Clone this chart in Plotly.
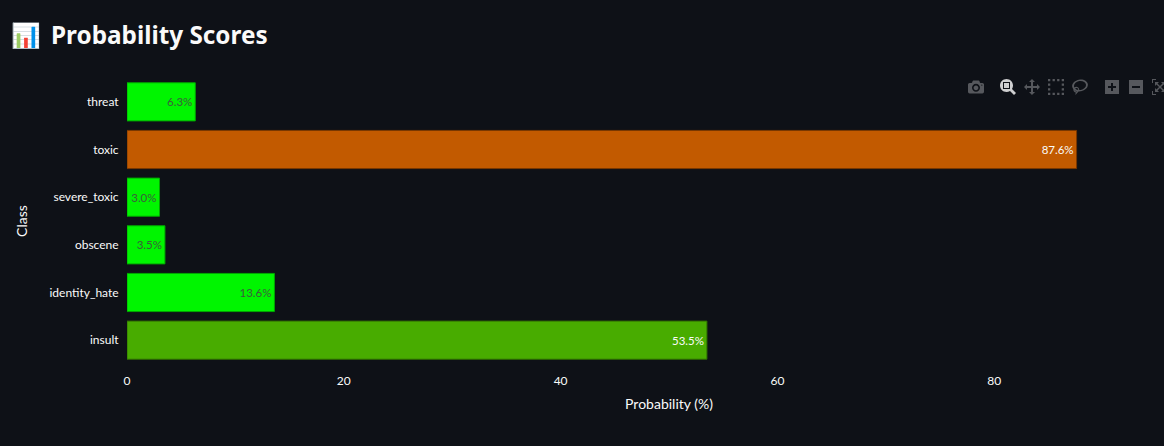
import plotly.graph_objects as go

# top to bottom, as in the picture
classes = ["threat", "toxic", "severe_toxic", "obscene", "identity_hate", "insult"]
probabilities = [6.3, 87.6, 3.0, 3.5, 13.6, 53.5]
bar_colors = ["#00f500", "#c25a00", "#00f500", "#00f500", "#00f500", "#48ac00"]
edge_colors = ["#00a800", "#7a3800", "#00a800", "#00a800", "#00a800", "#2f7000"]
label_colors = ["#3b5f3b", "#fafafa", "#3b5f3b", "#3b5f3b", "#3b5f3b", "#fafafa"]
x_ticks = [0, 20, 40, 60, 80]

FONT = "Lato"
BG = "#0e1117"
WIDTH = 1240
HEIGHT = 446
PLOT_L, PLOT_R, PLOT_T, PLOT_B = 127, 1211, 78, 364


def page_x(px):
    return (px - PLOT_L) / (PLOT_R - PLOT_L)


def page_y(py):
    return (PLOT_B - py) / (PLOT_B - PLOT_T)


fig = go.Figure(go.Bar(
    x=probabilities,
    y=classes,
    orientation="h",
    text=[f"{p:.1f}%" for p in probabilities],
    textposition="inside",
    insidetextanchor="end",
    textangle=0,
    textfont=dict(color=label_colors, size=11.5),
    marker=dict(color=bar_colors, line=dict(color=edge_colors, width=1)),
    showlegend=False,
))

fig.update_layout(
    width=WIDTH,
    height=HEIGHT,
    paper_bgcolor=BG,
    plot_bgcolor=BG,
    font=dict(family=FONT, color="#fafafa", size=12),
    margin=dict(l=PLOT_L, r=WIDTH - PLOT_R, t=PLOT_T, b=HEIGHT - PLOT_B, autoexpand=False),
    bargap=0.2,
    modebar=dict(bgcolor="rgba(0,0,0,0)", color="rgba(255,255,255,0.3)", activecolor="rgba(255,255,255,0.8)"),
    annotations=[
        dict(text="📊", x=page_x(9), y=page_y(35), xref="paper", yref="paper", xanchor="left", yanchor="middle",
             showarrow=False, font=dict(size=24)),
        dict(text="<b>Probability Scores</b>", x=page_x(49), y=page_y(35), xref="paper", yref="paper",
             xanchor="left", yanchor="middle", showarrow=False, font=dict(family="Noto Sans", size=24.3, color="#fafafa")),
    ],
)
fig.update_xaxes(range=[0, 100], tickvals=x_ticks, showgrid=False, zeroline=False,
                 ticks="outside", ticklen=6, tickcolor=BG,
                 title=dict(text="Probability (%)", standoff=11, font=dict(size=14)))
fig.update_yaxes(autorange="reversed", showgrid=False, zeroline=False,
                 title=dict(text="Class", standoff=18, font=dict(size=14)), ticks="outside", ticklen=5, tickcolor=BG)

page_css = """
var s = document.createElement('style');
s.textContent = 'html,body{margin:0;padding:0;overflow:hidden;background:#0e1117}'
  + '.modebar-container{top:74px !important}'
  + '.modebar{right:44px !important}';
document.head.appendChild(s);
"""
fig.write_html("out.html", config={"displayModeBar": True, "displaylogo": False}, post_script=page_css)
